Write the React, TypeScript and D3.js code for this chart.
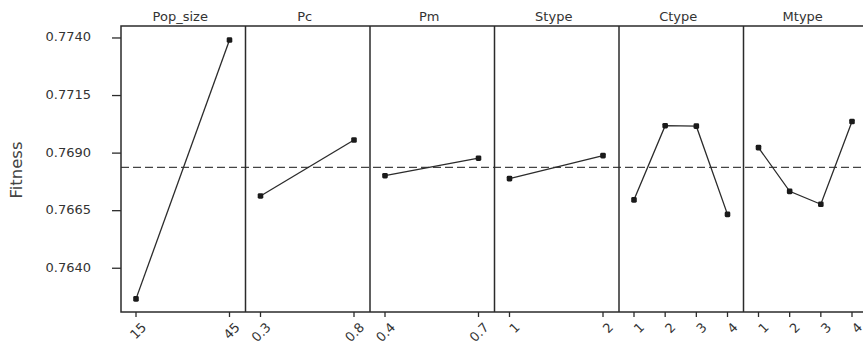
import React from "react";
import * as d3 from "d3";

// Main effects of each GA parameter on mean fitness
const factorNames = ["Pop_size", "Pc", "Pm", "Stype", "Ctype", "Mtype"];

const popSizeLevels = ["15", "45"];
const popSizeMeans = [0.76267, 0.77391];

const pcLevels = ["0.3", "0.8"];
const pcMeans = [0.76714, 0.76957];

const pmLevels = ["0.4", "0.7"];
const pmMeans = [0.76802, 0.76878];

const stypeLevels = ["1", "2"];
const stypeMeans = [0.76789, 0.76889];

const ctypeLevels = ["1", "2", "3", "4"];
const ctypeMeans = [0.76697, 0.77019, 0.77017, 0.76634];

const mtypeLevels = ["1", "2", "3", "4"];
const mtypeMeans = [0.76924, 0.76734, 0.76678, 0.77037];

const grandMean = 0.76838;
const yTickValues = [0.764, 0.7665, 0.769, 0.7715, 0.774];
const yTickLabels = ["0.7640", "0.7665", "0.7690", "0.7715", "0.7740"];

const panelLevels = [popSizeLevels, pcLevels, pmLevels, stypeLevels, ctypeLevels, mtypeLevels];
const panelMeans = [popSizeMeans, pcMeans, pmMeans, stypeMeans, ctypeMeans, mtypeMeans];

const W = 863;
const H = 342;
const plotLeft = 121;
const plotTop = 26;
const plotBottom = 312;
const panelW = 124.5;
const FONT = "'DejaVu Sans', Verdana, sans-serif";
const INK = "#2b2b2b";

export default function App() {
  const y = d3.scaleLinear().domain([0.7621, 0.77452]).range([plotBottom, plotTop]);
  const plotRight = plotLeft + panelW * factorNames.length;

  const panels = factorNames.map((name, i) => {
    const x0 = plotLeft + i * panelW;
    const levels = panelLevels[i];
    const means = panelMeans[i];
    const x = d3
      .scalePoint<string>()
      .domain(levels)
      .range([x0 + 15, x0 + panelW - 16]);
    const line = d3
      .line<number>()
      .x((_, j) => x(levels[j]) as number)
      .y((v) => y(v));
    return { name, x0, levels, means, x, path: line(means) as string };
  });

  return (
    <svg
      width={W}
      height={H}
      style={{ position: "absolute", left: 0, top: 0, background: "#fff" }}
      fontFamily={FONT}
    >
      <rect x={0} y={0} width={W} height={H} fill="#fff" />

      {/* y axis label */}
      <text
        transform={`translate(16.5,170) rotate(-90)`}
        textAnchor="middle"
        dominantBaseline="central"
        fontSize={16.5}
        fill="#444"
      >
        Fitness
      </text>

      {/* y ticks */}
      {yTickValues.map((v, k) => (
        <g key={k}>
          <line x1={plotLeft - 9} x2={plotLeft} y1={y(v)} y2={y(v)} stroke={INK} strokeWidth={1.3} />
          <text
            x={91}
            y={y(v) - 1}
            textAnchor="end"
            dominantBaseline="central"
            fontSize={13}
            fill="#333"
          >
            {yTickLabels[k]}
          </text>
        </g>
      ))}

      {/* grand mean reference */}
      <line
        x1={plotLeft}
        x2={plotRight}
        y1={y(grandMean)}
        y2={y(grandMean)}
        stroke="#444"
        strokeWidth={1.2}
        strokeDasharray="8 4"
      />

      {panels.map((p, i) => (
        <g key={p.name}>
          <text
            x={p.x0 + panelW / 2 - 3}
            y={21}
            textAnchor="middle"
            fontSize={13}
            fill="#333"
          >
            {p.name}
          </text>
          <path d={p.path} fill="none" stroke={INK} strokeWidth={1.3} />
          {p.means.map((v, j) => (
            <rect
              key={j}
              x={(p.x(p.levels[j]) as number) - 2.8}
              y={y(v) - 2.8}
              width={5.6}
              height={5.6}
              rx={1.4}
              fill="#1a1a1a"
            />
          ))}
          {p.levels.map((lv) => {
            const tx = p.x(lv) as number;
            return (
              <g key={lv}>
                <line x1={tx} x2={tx} y1={plotBottom} y2={plotBottom + 5} stroke={INK} strokeWidth={1.3} />
                <text
                  transform={`translate(${tx + 8},${325}) rotate(-45)`}
                  textAnchor="end"
                  dominantBaseline="central"
                  fontSize={13}
                  fill="#333"
                >
                  {lv}
                </text>
              </g>
            );
          })}
          {i > 0 && (
            <line x1={p.x0} x2={p.x0} y1={plotTop} y2={plotBottom} stroke={INK} strokeWidth={1.5} />
          )}
        </g>
      ))}

      {/* frame */}
      <rect
        x={plotLeft}
        y={plotTop}
        width={plotRight - plotLeft}
        height={plotBottom - plotTop}
        fill="none"
        stroke={INK}
        strokeWidth={1.5}
      />
    </svg>
  );
}
